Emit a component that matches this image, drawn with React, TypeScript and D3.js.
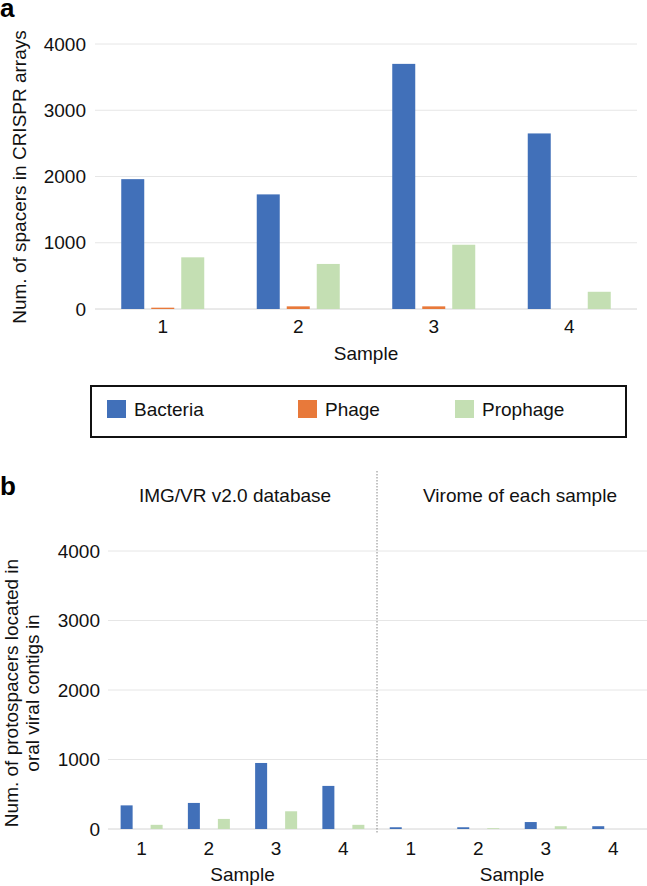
import React from 'react';
import * as d3 from 'd3';

const samples = ['1', '2', '3', '4'];
const seriesNames = ['Bacteria', 'Phage', 'Prophage'];
const seriesColors = ['#4170b9', '#e8793a', '#c4dfb3'];
const yTicks = [0, 1000, 2000, 3000, 4000];

// panel a: spacers in CRISPR arrays
const spacerBacteria = [1960, 1730, 3700, 2650];
const spacerPhage = [20, 40, 40, 0];
const spacerProphage = [780, 680, 970, 260];

// panel b: protospacers, IMG/VR v2.0 database
const imgvrBacteria = [340, 375, 950, 620];
const imgvrPhage = [0, 0, 0, 0];
const imgvrProphage = [60, 145, 255, 60];

// panel b: protospacers, virome of each sample
const viromeBacteria = [25, 25, 100, 40];
const viromePhage = [0, 0, 0, 0];
const viromeProphage = [0, 12, 40, 0];

const FONT = '"Liberation Sans", Arial, Helvetica, sans-serif';
const W = 647;
const H = 886;

type Scale = d3.ScaleBand<string>;

function Bars({x, y, series, off, barWidth}: {
    x: Scale; y: d3.ScaleLinear<number, number>; series: number[][];
    off: d3.ScalePoint<string>; barWidth: number;
}) {
    return (
        <g>
            {series.map((vals, si) =>
                vals.map((v, i) => {
                    const cx = (x(samples[i]) as number) + x.bandwidth() / 2 + (off(seriesNames[si]) as number);
                    return (
                        <rect key={`${si}-${i}`} x={cx - barWidth / 2} y={y(v)}
                              width={barWidth} height={y(0) - y(v)} fill={seriesColors[si]}/>
                    );
                })
            )}
        </g>
    );
}

function CategoryAxis({x, yPos, titleY}: { x: Scale; yPos: number; titleY: number }) {
    const [a, b] = x.range();
    return (
        <g fontFamily={FONT} fontSize={19} fill="#111">
            {samples.map(s => (
                <text key={s} x={(x(s) as number) + x.bandwidth() / 2} y={yPos}
                      textAnchor="middle" dominantBaseline="central">{s}</text>
            ))}
            <text x={(a + b) / 2} y={titleY} textAnchor="middle" dominantBaseline="central">Sample</text>
        </g>
    );
}

export default function App() {
    // panel a scales
    const xA = d3.scaleBand<string>().domain(samples).range([95, 637]);
    const yA = d3.scaleLinear().domain([0, 4000]).range([309, 44]);
    const offA = d3.scalePoint<string>().domain(seriesNames).range([-30, 30]);

    // panel b scales
    const yB = d3.scaleLinear().domain([0, 4000]).range([829, 551]);
    const xBL = d3.scaleBand<string>().domain(samples).range([108, 377]);
    const xBR = d3.scaleBand<string>().domain(samples).range([377, 647]);
    const offB = d3.scalePoint<string>().domain(seriesNames).range([-15, 15]);

    const legendX = [107, 298, 455];

    return (
        <div style={{position: 'absolute', left: 0, top: 0}}>
            <svg width={W} height={H} style={{display: 'block', background: '#fff'}}>
                {/* ---------- panel a ---------- */}
                <text x={0} y={17} fontFamily={FONT} fontWeight="bold" fontSize={26}>a</text>
                {yTicks.map(t => (
                    <g key={t}>
                        <line x1={95} x2={637} y1={yA(t)} y2={yA(t)}
                              stroke={t === 0 ? '#d4d4d4' : '#e6e6e6'} strokeWidth={1}/>
                        <text x={86} y={yA(t)} textAnchor="end" dominantBaseline="central"
                              fontFamily={FONT} fontSize={19} fill="#111">{t}</text>
                    </g>
                ))}
                <text transform={`translate(26,177) rotate(-90)`} textAnchor="middle"
                      fontFamily={FONT} fontSize={19} fill="#111">Num. of spacers in CRISPR arrays</text>
                <Bars x={xA} y={yA} off={offA} barWidth={23}
                      series={[spacerBacteria, spacerPhage, spacerProphage]}/>
                <CategoryAxis x={xA} yPos={326} titleY={353}/>

                {/* legend */}
                <rect x={91} y={386} width={535} height={51} fill="none" stroke="#111" strokeWidth={2}/>
                {seriesNames.map((s, i) => (
                    <g key={s}>
                        <rect x={legendX[i]} y={400} width={19} height={18} fill={seriesColors[i]}/>
                        <text x={legendX[i] + 27} y={409} dominantBaseline="central"
                              fontFamily={FONT} fontSize={19} fill="#111">{s}</text>
                    </g>
                ))}

                {/* ---------- panel b ---------- */}
                <text x={0} y={495} fontFamily={FONT} fontWeight="bold" fontSize={26}>b</text>
                <text x={235} y={495} textAnchor="middle" dominantBaseline="central"
                      fontFamily={FONT} fontSize={19} fill="#111">IMG/VR v2.0 database</text>
                <text x={520} y={495} textAnchor="middle" dominantBaseline="central"
                      fontFamily={FONT} fontSize={19} fill="#111">Virome of each sample</text>
                {yTicks.map(t => (
                    <g key={t}>
                        <line x1={108} x2={647} y1={yB(t)} y2={yB(t)}
                              stroke={t === 0 ? '#d4d4d4' : '#e6e6e6'} strokeWidth={1}/>
                        <text x={100} y={yB(t)} textAnchor="end" dominantBaseline="central"
                              fontFamily={FONT} fontSize={19} fill="#111">{t}</text>
                    </g>
                ))}
                <line x1={377} x2={377} y1={471} y2={833} stroke="#888" strokeWidth={1}
                      strokeDasharray="1.5,1.5"/>
                <text transform={`translate(0,693) rotate(-90)`} textAnchor="middle"
                      fontFamily={FONT} fontSize={19} fill="#111">
                    <tspan x={0} y={18}>Num. of protospacers located in</tspan>
                    <tspan x={0} y={39}>oral viral contigs in</tspan>
                </text>
                <Bars x={xBL} y={yB} off={offB} barWidth={12}
                      series={[imgvrBacteria, imgvrPhage, imgvrProphage]}/>
                <Bars x={xBR} y={yB} off={offB} barWidth={12}
                      series={[viromeBacteria, viromePhage, viromeProphage]}/>
                <CategoryAxis x={xBL} yPos={848} titleY={874}/>
                <CategoryAxis x={xBR} yPos={848} titleY={874}/>
            </svg>
        </div>
    );
}
